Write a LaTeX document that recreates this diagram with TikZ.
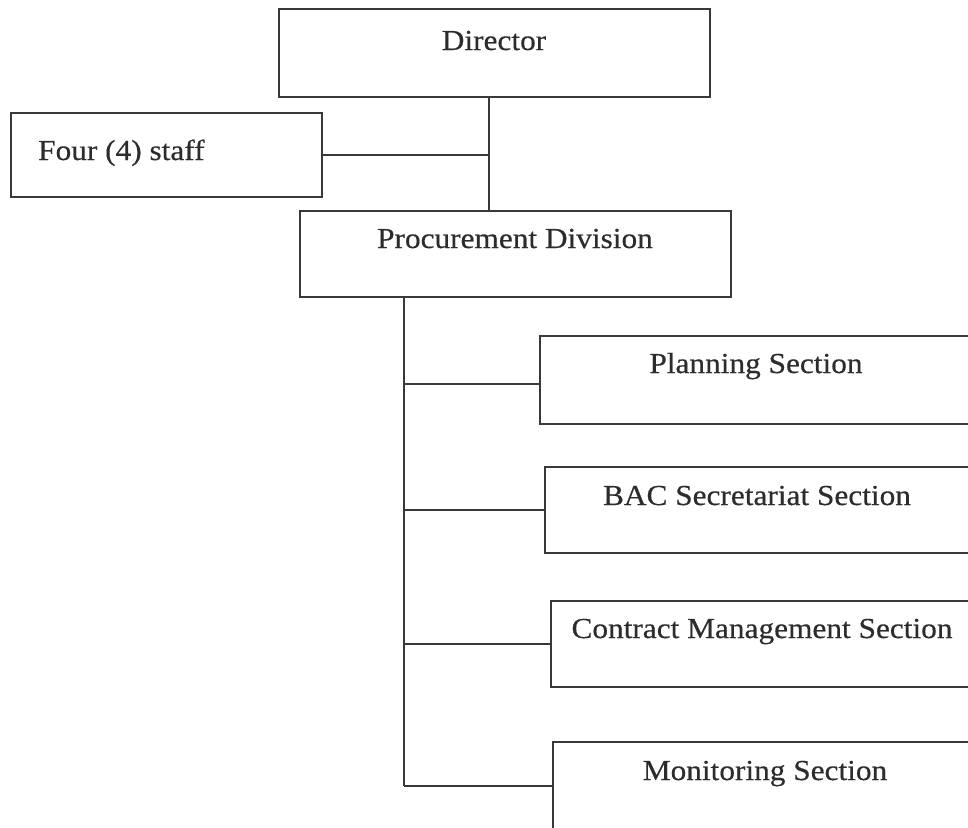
\documentclass[tikz,border=0pt]{standalone}
\usepackage{fontspec}
\setmainfont[FakeStretch=1.08,FakeBold=0.4]{Liberation Serif}
\definecolor{ink}{HTML}{2E2B2B}
\definecolor{linec}{HTML}{3A3838}
\tikzset{
  box/.style={draw=linec, line width=1.3pt, rectangle, inner sep=0pt, outer sep=0pt, anchor=north west},
  txt/.style={text=ink, font=\fontsize{29}{33}\selectfont, inner sep=0pt, anchor=base},
  conn/.style={draw=linec, line width=1.3pt}
}
\begin{document}
\begin{tikzpicture}[x=1pt,y=-1pt]
\fill[white] (0,0) rectangle (968,827);
\useasboundingbox (0,0) rectangle (968,827);
\clip (0,0) rectangle (968,827);
% boxes
\node[box, minimum width=431, minimum height=88] (dir) at (279,9) {};
\node[box, minimum width=311, minimum height=84] (staff) at (11,113) {};
\node[box, minimum width=431, minimum height=86] (proc) at (300,211) {};
\node[box, minimum width=460, minimum height=88] (plan) at (540,336) {};
\node[box, minimum width=455, minimum height=86] (bac) at (545,467) {};
\node[box, minimum width=449, minimum height=86] (cont) at (551,601) {};
\node[box, minimum width=447, minimum height=88] (mon) at (553,742) {};
% texts
\node[txt] (dirT) at (494,50) {Director};
\node[txt, anchor=base west] (staffT) at (38,160) {Four (4) staff};
\node[txt] (procT) at (515,248) {Procurement Division};
\node[txt] (planT) at (756,373) {Planning Section};
\node[txt] (bacT) at (757,505) {BAC Secretariat Section};
\node[txt] (contT) at (762,638) {Contract Management Section};
\node[txt] (monT) at (765,780) {Monitoring Section};
% connectors
\coordinate (j1) at (489,155);
\coordinate (sp) at (404,300);
\coordinate (planJ) at (540,384);
\draw[conn] (dir.south -| j1) -- (proc.north -| j1);
\draw[conn] (staff.east) -- (staff.east -| j1);
\draw[conn] (proc.south -| sp) -- (mon.west -| sp);
\draw[conn] (planJ -| sp) -- (planJ);
\draw[conn] (bac.west -| sp) -- (bac.west);
\draw[conn] (cont.west -| sp) -- (cont.west);
\draw[conn] (mon.west -| sp) -- (mon.west);
\end{tikzpicture}
\end{document}
